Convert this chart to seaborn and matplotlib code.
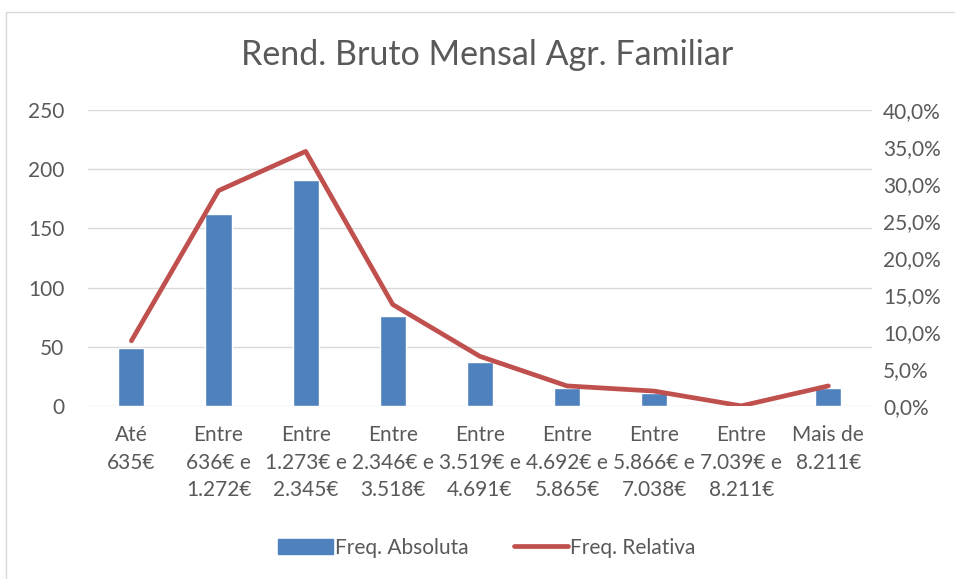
import matplotlib.pyplot as plt
import matplotlib.patches as mpatches
from matplotlib.lines import Line2D
from matplotlib.ticker import FuncFormatter
import numpy as np
import pandas as pd
import seaborn as sns

categories = [
    "Até\n635€",
    "Entre\n636€ e\n1.272€",
    "Entre\n1.273€ e\n2.345€",
    "Entre\n2.346€ e\n3.518€",
    "Entre\n3.519€ e\n4.691€",
    "Entre\n4.692€ e\n5.865€",
    "Entre\n5.866€ e\n7.038€",
    "Entre\n7.039€ e\n8.211€",
    "Mais de\n8.211€",
]
freq_abs = [49, 162, 191, 76, 37, 15, 11, 0, 15]
freq_rel = [0.088, 0.291, 0.344, 0.137, 0.067, 0.027, 0.020, 0.000, 0.027]

df = pd.DataFrame({"cat": categories, "abs": freq_abs, "rel": freq_rel,
                   "pos": np.arange(len(categories))})

sns.set_theme(style="white")
plt.rcParams["font.family"] = ["Lato", "DejaVu Sans"]
gray = "#595959"
blue = "#4F81BD"
red = "#C0504D"

fig = plt.figure(figsize=(9.55, 5.79), dpi=100)
ax = fig.add_axes([0.092, 0.299, 0.821, 0.511])

sns.barplot(data=df, x="cat", y="abs", color=blue, width=0.3, saturation=1, ax=ax)
ax.set_ylim(0, 250)
ax.set_yticks(range(0, 251, 50))
ax.yaxis.grid(True, color="#D9D9D9", linewidth=1)
ax.set_axisbelow(True)
ax.set_xlabel("")
ax.set_ylabel("")
ax.tick_params(axis="y", length=0, labelsize=15, colors=gray, pad=17)
ax.tick_params(axis="x", length=0, labelsize=15, colors=gray, pad=14)
for lbl in ax.get_xticklabels():
    lbl.set_linespacing(1.45)
for s in ax.spines.values():
    s.set_visible(False)

ax2 = ax.twinx()
sns.lineplot(data=df, x="pos", y="rel", color=red, linewidth=3.4, ax=ax2)
ax2.set_ylim(0, 0.4)
ax2.set_yticks(np.arange(0, 0.41, 0.05))
ax2.yaxis.set_major_formatter(FuncFormatter(lambda v, p: f"{v*100:.1f}%".replace(".", ",")))
ax2.set_ylabel("")
ax2.tick_params(axis="y", length=0, labelsize=15, colors=gray, pad=8)
ax2.grid(False)
for s in ax2.spines.values():
    s.set_visible(False)
ax.set_xlim(-0.5, len(categories) - 0.5)

fig.text(0.51, 0.905, "Rend. Bruto Mensal Agr. Familiar", ha="center", va="center",
         fontsize=24.5, color=gray)

handles = [mpatches.Patch(color=blue, label="Freq. Absoluta"),
           Line2D([0], [0], color=red, linewidth=3.4, label="Freq. Relativa")]
fig.legend(handles=handles, loc="center", bbox_to_anchor=(0.51, 0.054), ncol=2,
           frameon=False, fontsize=15, labelcolor=gray, handlelength=2.6,
           handletextpad=0.1, columnspacing=2.2)

fig.patches.append(mpatches.Rectangle((0.006, -0.01), 1.0, 0.99, transform=fig.transFigure,
                                      fill=False, edgecolor="#D9D9D9", linewidth=1))

fig.savefig("out.png", dpi=100)
